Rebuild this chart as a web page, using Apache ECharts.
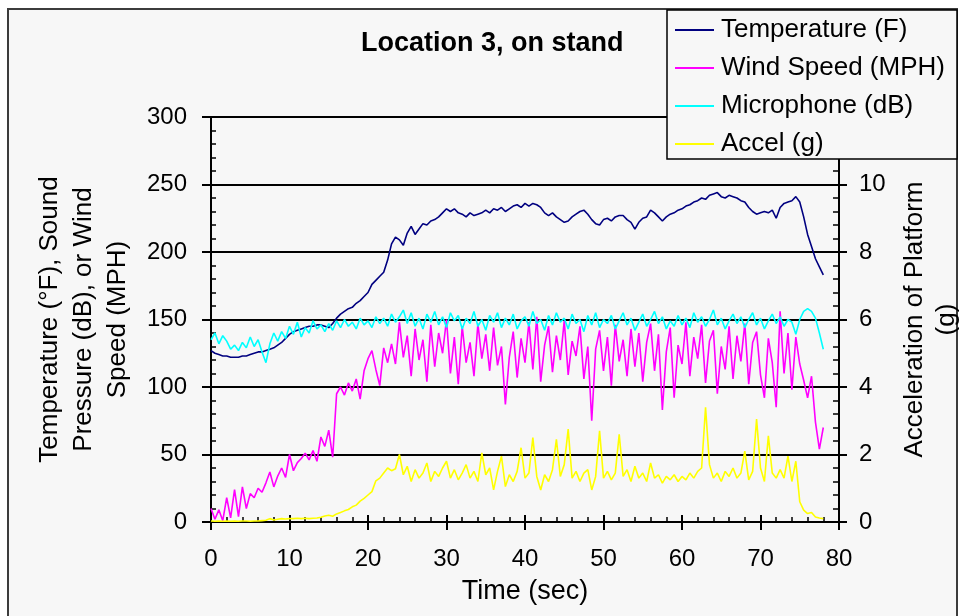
<!DOCTYPE html>
<html>
<head>
<meta charset="utf-8">
<script src="https://cdn.jsdelivr.net/npm/echarts@6/dist/echarts.min.js"></script>
<style>
html,body{margin:0;padding:0;background:#ffffff;}
#chart{width:967px;height:616px;}
</style>
</head>
<body>
<div id="chart"></div>
<script>
// Sampling step of the recorded data (seconds)
const timeStep = 0.5;
const xTicks = [0, 10, 20, 30, 40, 50, 60, 70, 80];
const leftTicks = [0, 50, 100, 150, 200, 250, 300];
const rightTicks = [0, 2, 4, 6, 8, 10, 12];
const seriesNames = ['Temperature (F)', 'Wind Speed (MPH)', 'Microphone (dB)', 'Accel (g)'];

const temperature = [
127,125,124,123,123,122,122,122,123,123,
124,125,126,126,127,128,129,131,133,136,
139,141,142,143,144,145,145,146,146,145,
144,147,151,154,156,158,159,162,164,167,
170,176,179,182,185,194,206,211,209,205,
214,219,213,217,221,220,223,224,226,229,
232,230,232,229,228,226,229,227,228,229,
231,229,232,231,233,230,232,234,235,233,
236,234,236,235,233,229,227,229,226,224,
222,223,226,228,230,231,228,224,221,220,
224,225,223,226,227,227,224,222,217,222,
225,226,231,229,226,223,226,228,229,231,
232,234,235,237,238,240,239,242,243,244,
241,240,242,241,240,238,237,233,230,228,
229,230,229,231,225,233,236,237,238,241,
237,226,213,204,195,189,183
];

const windSpeed = [
10,2,9,1,18,3,24,4,26,10,
21,18,25,22,29,37,26,34,40,33,
50,38,44,47,51,46,53,45,63,56,
68,48,95,100,94,103,97,106,91,112,
121,127,113,101,129,118,132,117,148,122,
138,108,143,120,135,104,146,115,140,125,
150,110,137,102,145,118,133,108,147,121,
139,112,144,116,130,87,122,141,107,136,
118,148,113,152,104,131,145,111,138,120,
149,109,134,123,145,106,130,75,128,142,
112,137,101,146,119,135,108,143,115,140,
104,133,147,112,139,83,126,144,92,131,
117,148,108,137,121,146,103,134,142,95,
130,113,145,106,138,119,147,102,133,141,
109,92,136,118,85,156,110,140,98,137,
117,105,92,108,74,54,70
];

const microphone = [
135,140,132,138,134,128,131,127,133,129,
137,130,135,126,118,132,140,134,141,136,
145,139,148,137,144,140,149,143,146,141,
147,142,149,144,150,145,148,143,151,146,
149,144,152,147,151,145,154,148,152,157,
147,155,145,151,143,154,148,156,146,152,
144,155,149,153,143,151,147,156,145,150,
142,153,148,155,144,151,146,154,143,149,
152,145,156,147,150,142,153,146,155,148,
151,143,154,147,150,141,153,146,155,144,
150,147,153,143,149,155,146,151,142,148,
154,145,150,156,147,152,143,149,145,153,
146,151,144,155,148,152,145,150,157,146,
151,143,149,154,147,152,144,150,155,146,
151,143,149,154,147,152,145,150,148,139,
150,156,158,156,151,140,128
];

const accel = [
0.03,0.02,0.03,0.02,0.03,0.02,0.03,0.02,0.03,0.03,
0.02,0.03,0.03,0.04,0.05,0.10,0.06,0.08,0.10,0.09,
0.10,0.10,0.11,0.10,0.11,0.10,0.11,0.12,0.14,0.18,
0.20,0.17,0.24,0.28,0.33,0.37,0.45,0.50,0.62,0.70,
0.80,0.90,1.22,1.30,1.45,1.60,1.52,1.58,2.00,1.40,
1.65,1.20,1.55,1.30,1.45,1.75,1.20,1.50,1.35,1.60,
1.80,1.30,1.55,1.25,1.45,1.70,1.30,1.50,1.20,2.05,
1.40,1.60,0.95,1.50,1.95,1.05,1.40,1.20,1.50,2.20,
1.30,1.45,2.50,1.35,0.95,1.40,1.20,1.55,2.45,1.35,
1.70,2.75,1.30,1.50,1.20,1.45,1.55,0.95,1.35,2.70,
1.30,1.50,1.25,1.45,2.60,1.35,1.55,1.20,1.65,1.30,
1.45,1.20,1.75,1.30,1.40,1.15,1.35,1.25,1.40,1.20,
1.35,1.25,1.45,1.30,1.50,1.60,3.40,1.70,1.30,1.45,
1.20,1.50,1.35,1.60,1.30,1.45,2.10,1.25,1.50,3.05,
1.60,1.20,2.55,1.45,1.30,1.55,1.30,1.95,1.20,1.80,
0.60,0.35,0.25,0.28,0.15,0.12,0.10
];

const toPairs = arr => arr.map((v, i) => [i * timeStep, v]);

const FONT = '"Liberation Sans", Arial, sans-serif';
const GRID = { left: 211, right: 128, top: 117, bottom: 94 };

const chart = echarts.init(document.getElementById('chart'), null, { renderer: 'canvas' });

const lineCommon = (name, data, color, yIdx) => ({
  name: name,
  type: 'line',
  xAxisIndex: 0,
  yAxisIndex: yIdx,
  data: toPairs(data),
  showSymbol: false,
  symbol: 'none',
  animation: false,
  lineStyle: { color: color, width: 1.6 },
  itemStyle: { color: color },
  z: 5
});

const option = {
  animation: false,
  backgroundColor: '#ffffff',
  title: {
    text: 'Location 3, on stand',
    left: 361,
    top: 30,
    padding: 0,
    textStyle: { fontFamily: FONT, fontSize: 27, fontWeight: 'bold', color: '#000' }
  },
  graphic: {
    elements: [
      {
        type: 'rect', z: -100, silent: true,
        shape: { x: 8, y: 9, width: 949, height: 700 },
        style: { fill: '#f7f7f7', stroke: '#3c3c3c', lineWidth: 2 }
      },
      {
        type: 'rect', z: 100, silent: true,
        shape: { x: 667, y: 10, width: 290, height: 149 },
        style: { fill: '#f7f7f7', stroke: '#000', lineWidth: 1.5 }
      }
    ]
  },
  legend: {
    orient: 'vertical',
    left: 675,
    top: 15,
    z: 110,
    padding: 0,
    icon: 'rect',
    itemWidth: 39,
    itemHeight: 2,
    itemGap: 8,
    data: seriesNames,
    textStyle: { fontFamily: FONT, fontSize: 26, color: '#000', lineHeight: 30, padding: [0, 0, 0, 2] }
  },
  grid: [
    Object.assign({ outerBoundsMode: 'none' }, GRID),
    Object.assign({ outerBoundsMode: 'none' }, GRID)
  ],
  xAxis: [
    {
      type: 'value', gridIndex: 0,
      min: xTicks[0], max: xTicks[xTicks.length - 1], interval: 10,
      name: 'Time (sec)', nameLocation: 'middle', nameGap: 56,
      nameTextStyle: { fontFamily: FONT, fontSize: 27, color: '#000' },
      axisLine: { show: true, onZero: false, lineStyle: { color: '#000', width: 2 } },
      axisTick: { show: true, inside: true, length: 7, lineStyle: { color: '#000', width: 2 } },
      minorTick: { show: true, splitNumber: 5, length: 5, lineStyle: { color: '#000', width: 1.5 } },
      axisLabel: { margin: 25, fontFamily: FONT, fontSize: 24, color: '#000',
        formatter: v => xTicks.includes(v) ? String(v) : '' },
      splitLine: { show: false }
    },
    {
      type: 'value', gridIndex: 1,
      min: xTicks[0], max: xTicks[xTicks.length - 1], interval: 10,
      axisLine: { show: false, onZero: false },
      axisTick: { show: true, inside: false, length: 8, lineStyle: { color: '#000', width: 2 } },
      axisLabel: { show: false },
      splitLine: { show: false }
    }
  ],
  yAxis: [
    {
      type: 'value', gridIndex: 0, position: 'left',
      min: leftTicks[0], max: leftTicks[leftTicks.length - 1], interval: 50,
      name: 'Temperature (°F), Sound\nPressure (dB), or Wind\nSpeed (MPH)',
      nameLocation: 'middle', nameGap: 76, nameRotate: 90,
      nameTextStyle: { fontFamily: FONT, fontSize: 26, color: '#000', lineHeight: 34, align: 'center' },
      axisLine: { show: true, onZero: false, lineStyle: { color: '#000', width: 2 } },
      axisTick: { show: true, inside: true, length: 5, lineStyle: { color: '#000', width: 2 } },
      minorTick: { show: true, splitNumber: 5, length: 5, lineStyle: { color: '#000', width: 1.5 } },
      axisLabel: { margin: 24, fontFamily: FONT, fontSize: 24, color: '#000',
        formatter: v => leftTicks.includes(v) ? String(v) : '' },
      splitLine: { show: true, lineStyle: { color: '#000', width: 2 } }
    },
    {
      type: 'value', gridIndex: 0, position: 'right',
      min: rightTicks[0], max: rightTicks[rightTicks.length - 1], interval: 2,
      name: 'Acceleration of Platform\n(g)',
      nameLocation: 'middle', nameGap: 60, nameRotate: 90,
      nameTextStyle: { fontFamily: FONT, fontSize: 26, color: '#000', lineHeight: 32, align: 'center' },
      axisLine: { show: true, onZero: false, lineStyle: { color: '#000', width: 2 } },
      axisTick: { show: true, inside: true, length: 6, lineStyle: { color: '#000', width: 2 } },
      minorTick: { show: true, splitNumber: 5, length: 6, lineStyle: { color: '#000', width: 1.5 } },
      axisLabel: { margin: 20, fontFamily: FONT, fontSize: 24, color: '#000',
        formatter: v => rightTicks.includes(v) ? String(v) : '' },
      splitLine: { show: false }
    },
    {
      type: 'value', gridIndex: 1, position: 'left',
      min: leftTicks[0], max: leftTicks[leftTicks.length - 1], interval: 50,
      axisLine: { show: false, onZero: false },
      axisTick: { show: true, inside: false, length: 9, lineStyle: { color: '#000', width: 2 } },
      axisLabel: { show: false },
      splitLine: { show: false }
    },
    {
      type: 'value', gridIndex: 1, position: 'right',
      min: rightTicks[0], max: rightTicks[rightTicks.length - 1], interval: 2,
      axisLine: { show: false, onZero: false },
      axisTick: { show: true, inside: false, length: 8, lineStyle: { color: '#000', width: 2 } },
      axisLabel: { show: false },
      splitLine: { show: false }
    }
  ],
  series: [
    lineCommon(seriesNames[0], temperature, '#000080', 0),
    lineCommon(seriesNames[1], windSpeed, '#ff00ff', 0),
    lineCommon(seriesNames[2], microphone, '#00ffff', 0),
    lineCommon(seriesNames[3], accel, '#ffff00', 1)
  ]
};

chart.setOption(option);
</script>
</body>
</html>
